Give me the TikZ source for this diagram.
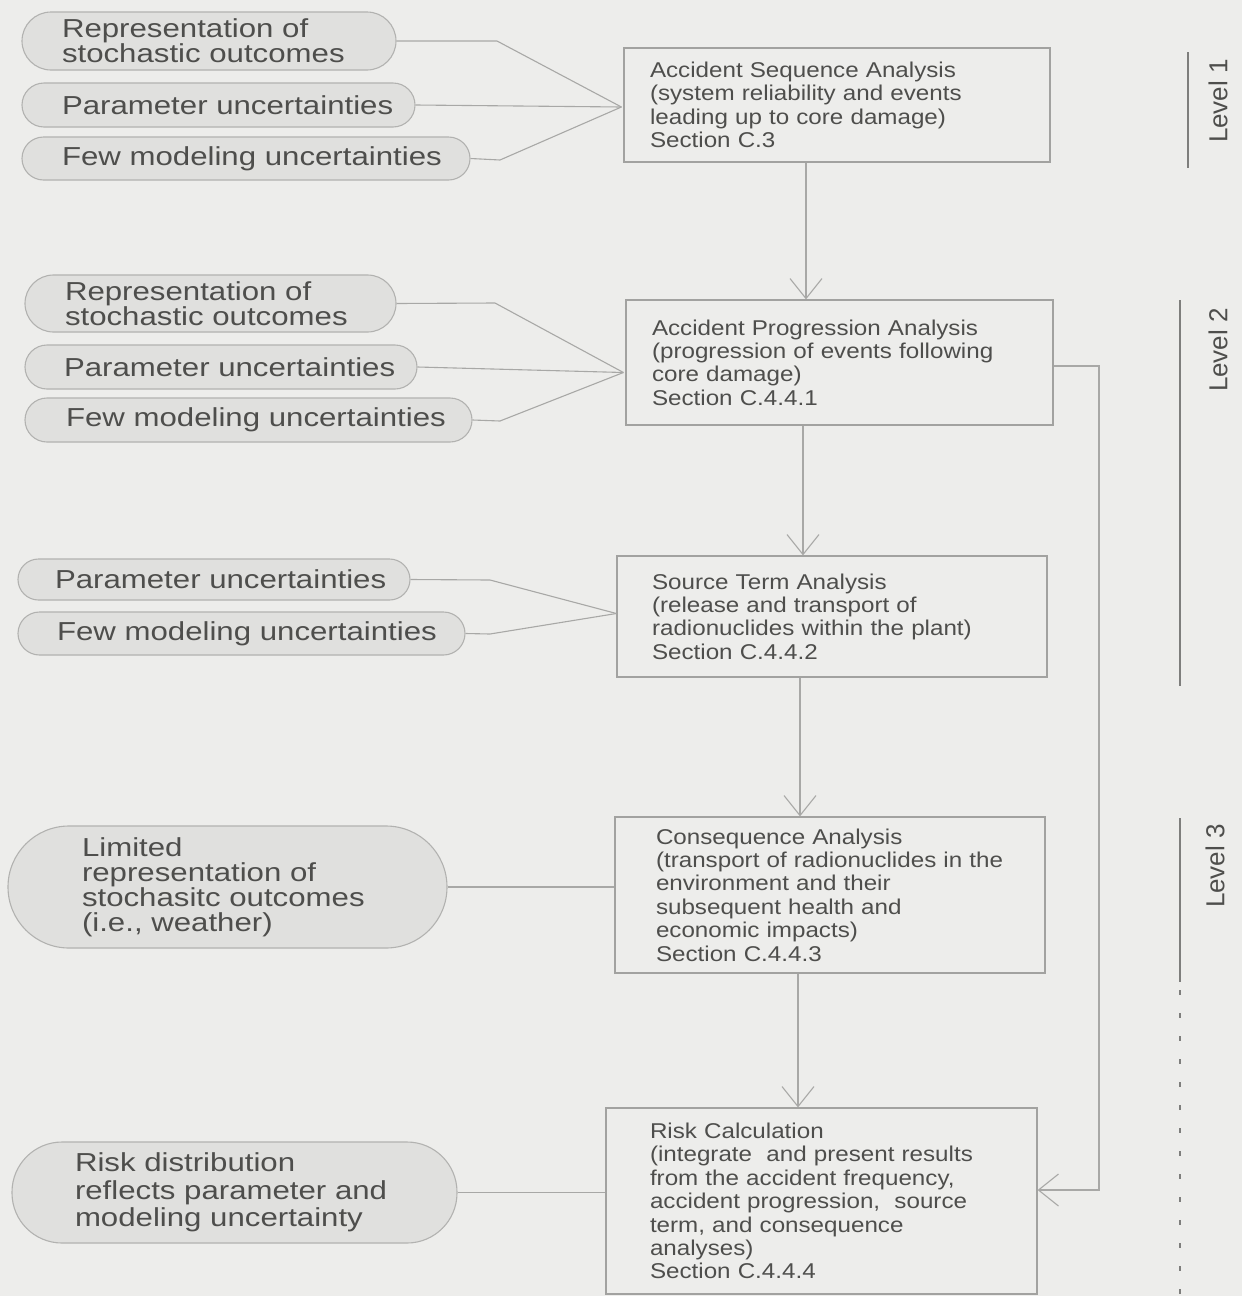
\documentclass[tikz,border=0pt]{standalone}
\usepackage{fontspec}
\setmainfont{Liberation Sans}
\newfontfamily\widefont{Liberation Sans}[FakeStretch=1.2]
\newfontfamily\boxfont{Liberation Sans}[FakeStretch=1.13]
\usetikzlibrary{arrows.meta}
\definecolor{paper}{HTML}{EDEDEB}
\definecolor{pillfill}{HTML}{E0E0DE}
\definecolor{pillline}{HTML}{B2B2B0}
\definecolor{boxline}{HTML}{A2A2A0}
\definecolor{wire}{HTML}{A8A8A6}
\definecolor{ink}{HTML}{4E4E4C}
\definecolor{lvlline}{HTML}{7E7E7C}

\tikzset{
  nobreak/.style={execute at begin node={\hyphenpenalty=10000\exhyphenpenalty=10000}},
  pill/.style={draw=pillline, fill=pillfill, line width=1.1pt, rounded corners=#1,
    align=left, inner xsep=0pt, inner ysep=0pt, text=ink, nobreak,
    font=\widefont\fontsize{26}{25}\selectfont},
  stagebox/.style={draw=boxline, line width=1.2pt, align=left, inner xsep=0pt,
    inner ysep=0pt, text=ink, nobreak, font=\boxfont\fontsize{21.4}{23.4}\selectfont},
  wireline/.style={draw=wire, line width=1.1pt},
  arr/.style={wireline, -{Straight Barb[length=20pt,width=32pt,line width=1.1pt]}},
  lvltext/.style={rotate=90, text=ink, font=\fontsize{26}{28}\selectfont},
  lvlrule/.style={draw=lvlline, line width=2pt}
}

\begin{document}
\begin{tikzpicture}[x=1pt,y=-1pt]
\fill[paper] (0,0) rectangle (1242,1296);
\useasboundingbox (0,0) rectangle (1242,1296);

% analysis stages
\node[stagebox, minimum width=426pt, minimum height=114pt, text width=374pt] (B1) at (837,105)
  {Accident~Sequence~Analysis\\(system~reliability~and~events\\leading~up~to~core~damage)\\Section~C.3};
\node[stagebox, minimum width=427pt, minimum height=125pt, text width=375pt] (B2) at (839.5,362.5)
  {Accident~Progression~Analysis\\(progression~of~events~following\\core~damage)\\Section~C.4.4.1};
\node[stagebox, minimum width=430pt, minimum height=121pt, text width=360pt] (B3) at (832,616.5)
  {Source~Term~Analysis\\(release~and~transport~of\\radionuclides~within~the~plant)\\Section~C.4.4.2};
\node[stagebox, minimum width=430pt, minimum height=156pt, text width=348pt] (B4) at (830,895)
  {Consequence~Analysis\\(transport~of~radionuclides~in~the\\environment~and~their\\subsequent~health~and\\economic~impacts)\\Section~C.4.4.3};
\node[stagebox, minimum width=431pt, minimum height=186pt, text width=343pt] (B5) at (821.5,1201)
  {Risk~Calculation\\(integrate~~and~present~results\\from~the~accident~frequency,\\accident~progression,~~source\\term,~and~consequence\\analyses)\\Section~C.4.4.4};

% uncertainty inputs, level 1
\node[pill=29pt, minimum width=374pt, minimum height=58pt, text width=294pt] (P11) at (209,41)
  {Representation~of\\stochastic~outcomes};
\node[pill=22pt, minimum width=393pt, minimum height=44pt, text width=313pt] (P12) at (218.5,105)
  {Parameter~uncertainties};
\node[pill=21.5pt, minimum width=448pt, minimum height=43pt, text width=368pt] (P13) at (246,158.5)
  {Few~modeling~uncertainties};

% uncertainty inputs, accident progression
\node[pill=28.5pt, minimum width=371pt, minimum height=57pt, text width=291pt] (P21) at (210.5,303.5)
  {Representation~of\\stochastic~outcomes};
\node[pill=22pt, minimum width=392pt, minimum height=44pt, text width=314pt] (P22) at (221,367)
  {Parameter~uncertainties};
\node[pill=22pt, minimum width=447pt, minimum height=44pt, text width=365pt] (P23) at (248.5,420)
  {Few~modeling~uncertainties};

% uncertainty inputs, source term
\node[pill=20.5pt, minimum width=392pt, minimum height=41pt, text width=318pt] (P31) at (214,579.5)
  {Parameter~uncertainties};
\node[pill=21.5pt, minimum width=447pt, minimum height=43pt, text width=369pt] (P32) at (241.5,633.5)
  {Few~modeling~uncertainties};

% consequence and risk
\node[pill=61pt, minimum width=439pt, minimum height=122pt, text width=291pt] (P4) at (227.5,887)
  {Limited\\representation~of\\stochasitc~outcomes\\(i.e.,~weather)};
\node[pill=50pt, minimum width=445pt, minimum height=101pt, text width=319pt,
      font=\widefont\fontsize{26}{27.5}\selectfont] (P5) at (234.5,1192.5)
  {Risk~distribution\\reflects~parameter~and\\modeling~uncertainty};

% feeds into the stages
\coordinate (c1) at ([xshift=-2pt,yshift=-2pt]B1.west);
\draw[wireline] (P11.east) -- (497,41) -- (c1);
\draw[wireline] (P12.east) -- (c1);
\draw[wireline] (P13.east) -- (500,160) -- (c1);

\coordinate (c2) at ([xshift=-2pt,yshift=-10pt]B2.west);
\draw[wireline] (P21.east) -- (495,303) -- (c2);
\draw[wireline] (P22.east) -- (c2);
\draw[wireline] (P23.east) -- (500,421) -- (c2);

\coordinate (c3) at ([yshift=3pt]B3.west);
\draw[wireline] (P31.east) -- (490,580) -- (c3);
\draw[wireline] (P32.east) -- (490,634) -- (c3);

\draw[wireline] (P4.east) -- (P4.east -| B4.west);
\draw[wireline] (P5.east) -- (P5.east -| B5.west);

% main flow
\draw[arr] ([xshift=-31pt]B1.south) -- ([xshift=-33.5pt]B2.north);
\draw[arr] ([xshift=-36.5pt]B2.south) -- ([xshift=-29pt]B3.north);
\draw[arr] ([xshift=-32pt]B3.south) -- ([xshift=-30pt]B4.north);
\draw[arr] ([xshift=-32pt]B4.south) -- ([xshift=-23.5pt]B5.north);

% bypass from accident progression to risk calculation
\coordinate (fb) at (1099,780);
\draw[arr] ([yshift=-3.5pt]B2.east) -| (fb) |- ([yshift=11pt]B5.east);

% PRA levels
\draw[lvlrule] (1188,52) -- (1188,168);
\node[lvltext] (L1) at (1218,101) {Level 1};
\draw[lvlrule] (1180,300) -- (1180,686);
\node[lvltext] (L2) at (1218,350) {Level 2};
\draw[lvlrule] (1180,818) -- (1180,982);
\draw[lvlrule, line width=2.5pt, dash pattern=on 5pt off 18pt] (1180,990) -- (1180,1296);
\node[lvltext] (L3) at (1215,866) {Level 3};
\end{tikzpicture}
\end{document}
